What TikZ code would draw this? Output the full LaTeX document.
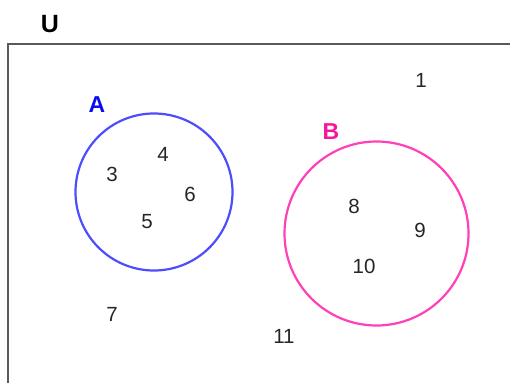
\documentclass[tikz,border=0pt]{standalone}
\usepackage{fontspec}
\setmainfont{Liberation Sans}
\definecolor{ablue}{HTML}{4D4DFF}
\definecolor{bpink}{HTML}{FF40B8}
\definecolor{lblue}{HTML}{0A0AF5}
\definecolor{lpink}{HTML}{F5169C}
\begin{document}
\begin{tikzpicture}[x=1pt,y=-1pt,
  num/.style={font=\fontsize{20.5}{20.5}\selectfont, text=black!85, inner sep=0pt, anchor=center},
  setlabel/.style={font=\fontsize{23}{23}\selectfont\bfseries, inner sep=0pt, anchor=center},
  frame/.style={draw=black!65, line width=2pt},
  setA/.style={draw=ablue, line width=2.2pt},
  setB/.style={draw=bpink, line width=2.2pt}]
\useasboundingbox (0,0) rectangle (510,382);
\fill[white] (0,0) rectangle (510,382);
\coordinate (fb) at (8,390);
\coordinate (fc) at (8,44);
\coordinate (fr) at (520,44);
\draw[frame] (fb) -- (fc) -- (fr);
\node[setlabel, font=\fontsize{25}{25}\selectfont\bfseries] (U) at (50,24) {U};
\node[setA, circle, minimum size=157pt, inner sep=0pt] (A) at (154,192) {};
\node[setB, circle, minimum size=184pt, inner sep=0pt] (B) at (376.5,233.5) {};
\node[setlabel, text=lblue] (LA) at (97,105) {A};
\node[setlabel, text=lpink] (LB) at (331,132) {B};
\node[num] (n1) at (421,80) {1};
\node[num] (n3) at (112,174) {3};
\node[num] (n4) at (163,154) {4};
\node[num] (n6) at (190,194) {6};
\node[num] (n5) at (147,222) {5};
\node[num] (n8) at (354,206) {8};
\node[num] (n9) at (420,230) {9};
\node[num] (n10) at (364,266) {10};
\node[num] (n7) at (112,314) {7};
\node[num] (n11) at (284,336) {11};
\end{tikzpicture}
\end{document}
